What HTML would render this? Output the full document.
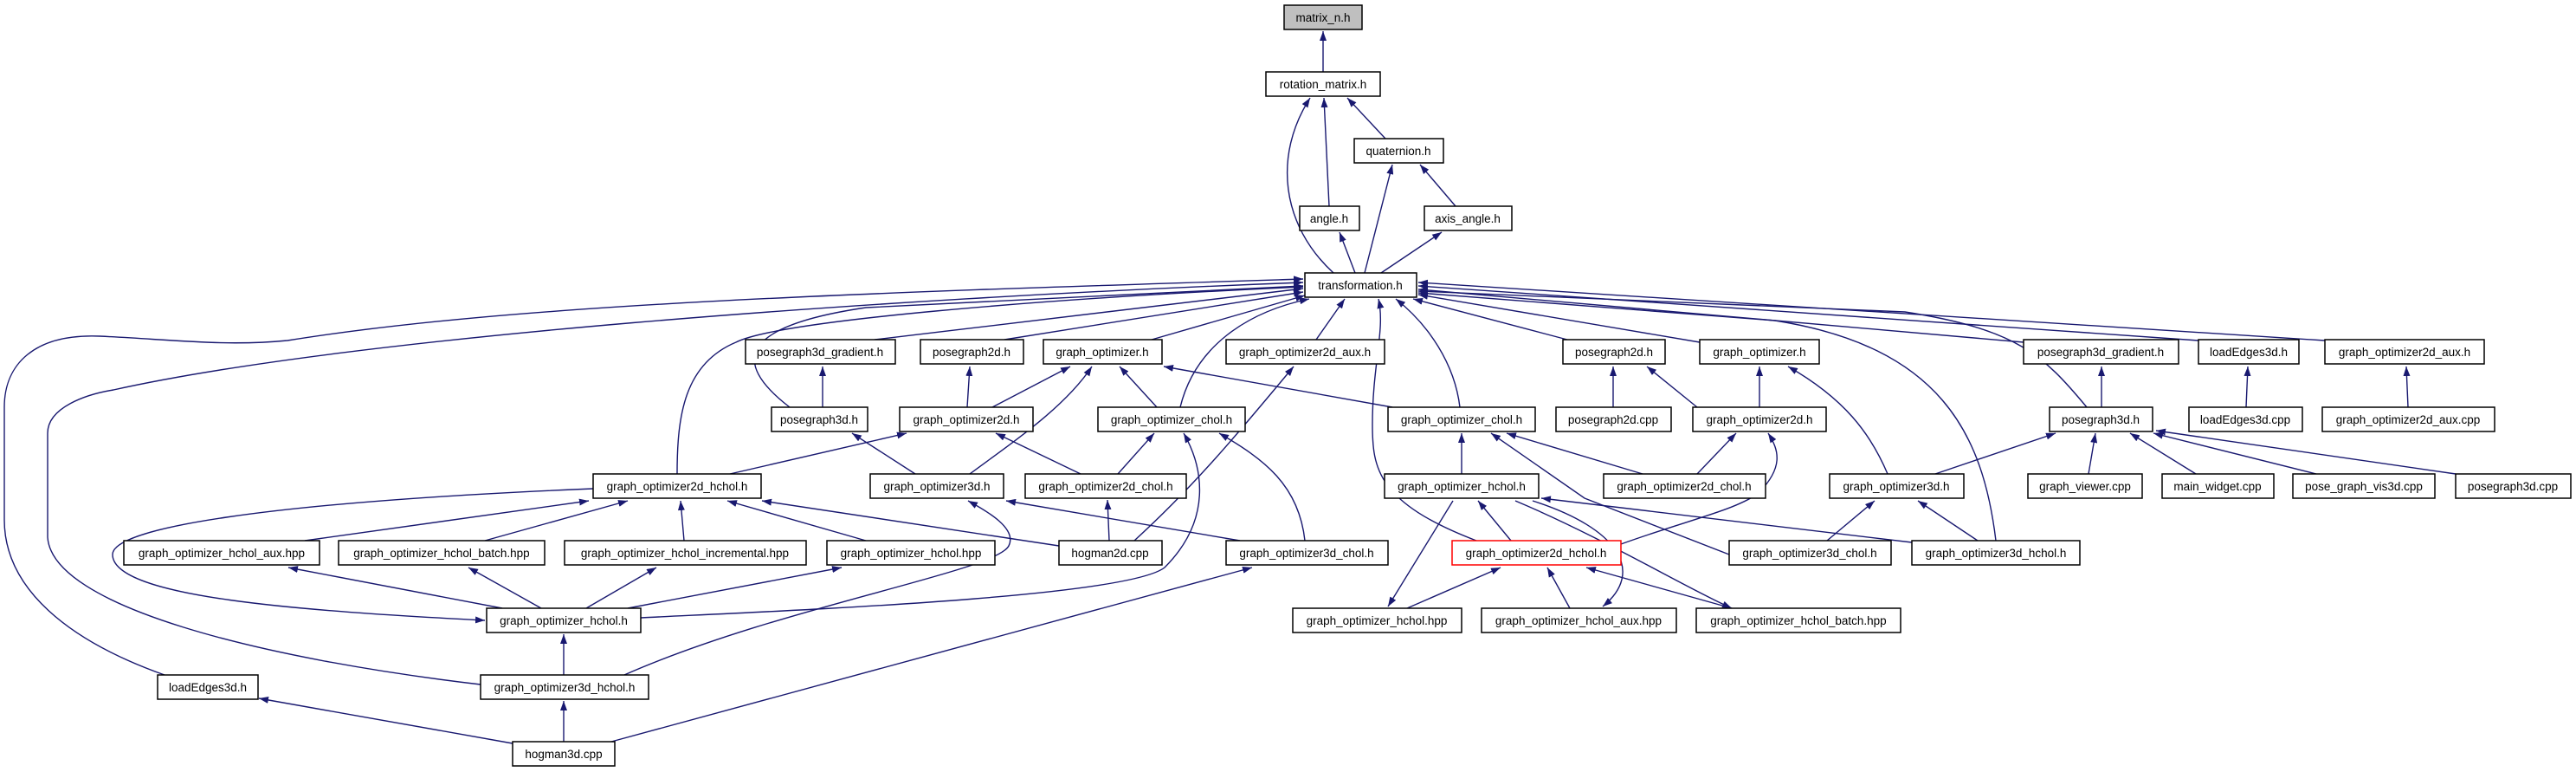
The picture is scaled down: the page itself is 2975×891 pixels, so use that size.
<!DOCTYPE html>
<html><head><meta charset="utf-8"><style>
html,body{margin:0;padding:0;background:#fff;}
svg{display:block;}
text{font-family:"Liberation Sans",sans-serif;font-size:13.5px;fill:#000;text-anchor:middle;}
.n rect{fill:#fff;stroke:#000;stroke-width:1.5;}
.e path{fill:none;stroke:#191970;stroke-width:1.4;marker-end:url(#ah);}
</style></head><body>
<svg width="2975" height="891" viewBox="0 0 2975 891" xmlns="http://www.w3.org/2000/svg">
<defs><marker id="ah" markerUnits="userSpaceOnUse" markerWidth="11" markerHeight="8" refX="11" refY="4" orient="auto"><path d="M0,0 L11,4 L0,8 z" fill="#191970"/></marker></defs>
<g class="e">
<path d="M1528,83 L1528,36"/>
<path d="M1600,160 L1556,113"/>
<path d="M1535,238 L1529,113"/>
<path d="M1540,315 C1480,260 1470,180 1513,113"/>
<path d="M1681,238 L1640,190"/>
<path d="M1576,315 L1608,190"/>
<path d="M1565,315 L1547,268"/>
<path d="M1595,315 L1665,268"/>
<path d="M1010,392 L1505,333"/>
<path d="M1160,392 L1505,337"/>
<path d="M1330,392 L1507,341"/>
<path d="M1520,392 L1553,345"/>
<path d="M1363,470 C1380,400 1440,360 1512,345"/>
<path d="M1686,470 C1680,420 1650,375 1612,345"/>
<path d="M1705,624 C1590,580 1585,540 1585,490 C1585,420 1600,380 1592,345"/>
<path d="M1810,392 L1632,345"/>
<path d="M1963,395 L1638,340"/>
<path d="M2337,395 L1638,334"/>
<path d="M2539,393 L1638,330"/>
<path d="M2685,393 L1638,326"/>
<path d="M912,470 C860,430 830,380 1000,355 L1505,330"/>
<path d="M2410,470 C2360,410 2330,380 2200,360 L1638,336"/>
<path d="M2305,624 C2290,500 2240,400 2050,370 L1638,338"/>
<path d="M782,547 C782,480 790,420 850,395 C900,370 1200,345 1505,331"/>
<path d="M555,790 C300,760 60,700 55,620 L55,500 C55,470 100,455 131,450 C400,390 1000,345 1505,326"/>
<path d="M190,779 C80,740 5,680 5,600 L5,470 C5,420 40,385 115,388 C200,392 260,400 332,393 C600,350 1000,338 1505,322"/>
<path d="M950,470 L950,423"/>
<path d="M1117,470 L1120,423"/>
<path d="M1146,470 L1236,423"/>
<path d="M1120,547 C1170,510 1230,470 1261,423"/>
<path d="M1336,470 L1293,423"/>
<path d="M1608,470 L1344,423"/>
<path d="M1310,624 C1380,560 1430,500 1494,423"/>
<path d="M1863,470 L1863,423"/>
<path d="M1960,470 L1902,423"/>
<path d="M2032,470 L2032,423"/>
<path d="M2180,547 C2160,500 2130,460 2065,423"/>
<path d="M2427,470 L2427,423"/>
<path d="M2594,470 L2596,423"/>
<path d="M2781,470 L2779,423"/>
<path d="M1057,547 L984,500"/>
<path d="M843,547 L1047,500"/>
<path d="M1248,547 L1150,500"/>
<path d="M1291,547 L1333,500"/>
<path d="M1507,624 C1500,560 1460,530 1408,500"/>
<path d="M740,713 C900,705 1300,690 1345,655 C1400,600 1390,540 1367,500"/>
<path d="M1688,547 L1688,500"/>
<path d="M1897,547 L1740,500"/>
<path d="M1997,640 L1830,575 L1722,500"/>
<path d="M1872,628 C1950,600 2000,590 2030,570 C2060,540 2055,520 2042,500"/>
<path d="M1960,547 L2005,500"/>
<path d="M2235,547 L2374,500"/>
<path d="M2412,547 L2420,500"/>
<path d="M2536,547 L2460,500"/>
<path d="M2675,547 L2487,500"/>
<path d="M2836,547 L2490,497"/>
<path d="M352,624 L680,578"/>
<path d="M560,624 L725,578"/>
<path d="M790,624 L786,578"/>
<path d="M1000,624 L840,578"/>
<path d="M1223,630 L880,578"/>
<path d="M685,564 C300,580 130,610 130,640 C130,690 350,705 560,716"/>
<path d="M1281,624 L1279,577"/>
<path d="M1432,624 L1162,578"/>
<path d="M2110,624 L2165,578"/>
<path d="M2284,624 L2215,578"/>
<path d="M2208,626 L1780,575"/>
<path d="M1745,624 L1707,578"/>
<path d="M1678,578 L1603,700"/>
<path d="M1770,578 C1870,610 1900,660 1851,700"/>
<path d="M1750,578 C1850,620 1950,680 2000,702"/>
<path d="M1625,702 L1733,655"/>
<path d="M1813,702 L1787,655"/>
<path d="M2000,702 L1832,655"/>
<path d="M580,702 L333,655"/>
<path d="M625,702 L541,655"/>
<path d="M677,702 L758,655"/>
<path d="M725,702 L972,655"/>
<path d="M651,779 L651,732"/>
<path d="M721,779 C900,700 1150,660 1165,630 C1175,610 1140,590 1118,578"/>
<path d="M651,856 L651,809"/>
<path d="M592,858 L299,806"/>
<path d="M706,856 L1446,655"/>
</g>
<g class="n">
<rect x="1483" y="6" width="90" height="28" style="fill:#bfbfbf"/><text x="1528" y="25">matrix_n.h</text>
<rect x="1462" y="83" width="132" height="28"/><text x="1528" y="102">rotation_matrix.h</text>
<rect x="1564" y="160" width="103" height="28"/><text x="1615" y="179">quaternion.h</text>
<rect x="1501" y="238" width="69" height="28"/><text x="1535" y="257">angle.h</text>
<rect x="1645" y="238" width="101" height="28"/><text x="1695" y="257">axis_angle.h</text>
<rect x="1507" y="315" width="129" height="28"/><text x="1571" y="334">transformation.h</text>
<rect x="861" y="392" width="173" height="28"/><text x="947" y="411">posegraph3d_gradient.h</text>
<rect x="1063" y="392" width="119" height="28"/><text x="1122" y="411">posegraph2d.h</text>
<rect x="1205" y="392" width="137" height="28"/><text x="1273" y="411">graph_optimizer.h</text>
<rect x="1416" y="392" width="183" height="28"/><text x="1507" y="411">graph_optimizer2d_aux.h</text>
<rect x="1805" y="392" width="118" height="28"/><text x="1864" y="411">posegraph2d.h</text>
<rect x="1963" y="392" width="138" height="28"/><text x="2032" y="411">graph_optimizer.h</text>
<rect x="2337" y="392" width="179" height="28"/><text x="2426" y="411">posegraph3d_gradient.h</text>
<rect x="2539" y="392" width="116" height="28"/><text x="2597" y="411">loadEdges3d.h</text>
<rect x="2685" y="392" width="184" height="28"/><text x="2777" y="411">graph_optimizer2d_aux.h</text>
<rect x="891" y="470" width="111" height="28"/><text x="946" y="489">posegraph3d.h</text>
<rect x="1039" y="470" width="154" height="28"/><text x="1116" y="489">graph_optimizer2d.h</text>
<rect x="1268" y="470" width="170" height="28"/><text x="1353" y="489">graph_optimizer_chol.h</text>
<rect x="1603" y="470" width="170" height="28"/><text x="1688" y="489">graph_optimizer_chol.h</text>
<rect x="1797" y="470" width="133" height="28"/><text x="1863" y="489">posegraph2d.cpp</text>
<rect x="1955" y="470" width="154" height="28"/><text x="2032" y="489">graph_optimizer2d.h</text>
<rect x="2367" y="470" width="119" height="28"/><text x="2426" y="489">posegraph3d.h</text>
<rect x="2528" y="470" width="131" height="28"/><text x="2593" y="489">loadEdges3d.cpp</text>
<rect x="2682" y="470" width="199" height="28"/><text x="2781" y="489">graph_optimizer2d_aux.cpp</text>
<rect x="685" y="547" width="194" height="28"/><text x="782" y="566">graph_optimizer2d_hchol.h</text>
<rect x="1005" y="547" width="154" height="28"/><text x="1082" y="566">graph_optimizer3d.h</text>
<rect x="1184" y="547" width="186" height="28"/><text x="1277" y="566">graph_optimizer2d_chol.h</text>
<rect x="1599" y="547" width="178" height="28"/><text x="1688" y="566">graph_optimizer_hchol.h</text>
<rect x="1852" y="547" width="187" height="28"/><text x="1945" y="566">graph_optimizer2d_chol.h</text>
<rect x="2113" y="547" width="155" height="28"/><text x="2190" y="566">graph_optimizer3d.h</text>
<rect x="2342" y="547" width="132" height="28"/><text x="2408" y="566">graph_viewer.cpp</text>
<rect x="2497" y="547" width="129" height="28"/><text x="2561" y="566">main_widget.cpp</text>
<rect x="2648" y="547" width="164" height="28"/><text x="2730" y="566">pose_graph_vis3d.cpp</text>
<rect x="2836" y="547" width="133" height="28"/><text x="2902" y="566">posegraph3d.cpp</text>
<rect x="143" y="624" width="226" height="28"/><text x="256" y="643">graph_optimizer_hchol_aux.hpp</text>
<rect x="391" y="624" width="238" height="28"/><text x="510" y="643">graph_optimizer_hchol_batch.hpp</text>
<rect x="652" y="624" width="279" height="28"/><text x="791" y="643">graph_optimizer_hchol_incremental.hpp</text>
<rect x="955" y="624" width="194" height="28"/><text x="1052" y="643">graph_optimizer_hchol.hpp</text>
<rect x="1223" y="624" width="119" height="28"/><text x="1282" y="643">hogman2d.cpp</text>
<rect x="1416" y="624" width="187" height="28"/><text x="1509" y="643">graph_optimizer3d_chol.h</text>
<rect x="1677" y="624" width="195" height="28" style="stroke:#ff0000"/><text x="1774" y="643">graph_optimizer2d_hchol.h</text>
<rect x="1997" y="624" width="187" height="28"/><text x="2090" y="643">graph_optimizer3d_chol.h</text>
<rect x="2208" y="624" width="194" height="28"/><text x="2305" y="643">graph_optimizer3d_hchol.h</text>
<rect x="562" y="702" width="178" height="28"/><text x="651" y="721">graph_optimizer_hchol.h</text>
<rect x="1493" y="702" width="195" height="28"/><text x="1590" y="721">graph_optimizer_hchol.hpp</text>
<rect x="1711" y="702" width="225" height="28"/><text x="1823" y="721">graph_optimizer_hchol_aux.hpp</text>
<rect x="1959" y="702" width="236" height="28"/><text x="2077" y="721">graph_optimizer_hchol_batch.hpp</text>
<rect x="182" y="779" width="116" height="28"/><text x="240" y="798">loadEdges3d.h</text>
<rect x="555" y="779" width="194" height="28"/><text x="652" y="798">graph_optimizer3d_hchol.h</text>
<rect x="592" y="856" width="118" height="28"/><text x="651" y="875">hogman3d.cpp</text>
</g>
</svg>
</body></html>
